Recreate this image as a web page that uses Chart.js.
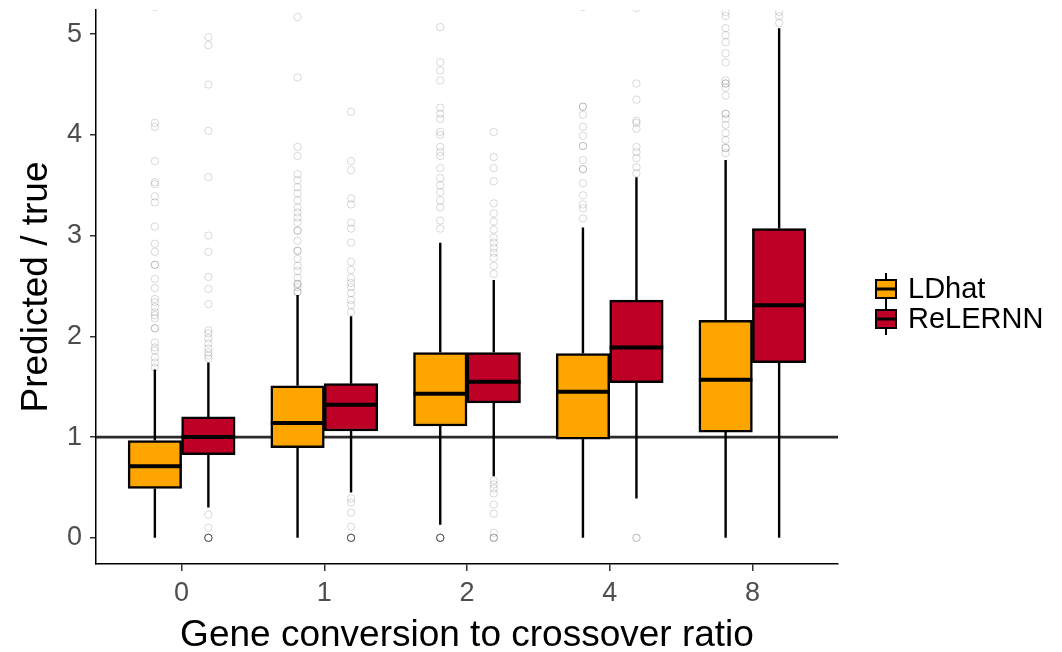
<!DOCTYPE html>
<html>
<head>
<meta charset="utf-8">
<script src="https://cdn.jsdelivr.net/npm/chart.js@4"></script>
<style>
  html, body { margin: 0; padding: 0; background: #fff; }
</style>
</head>
<body>
<canvas id="chart" width="1062" height="652"></canvas>
<script>
// --- data ---
const categories = ['0', '1', '2', '4', '8'];
const yTicks = [0, 1, 2, 3, 4, 5];
const refValue = 1;

const ldhatLower  = [0, 0, 0.13, 0, 0];
const ldhatQ1     = [0.49, 0.895, 1.11, 0.98, 1.05];
const ldhatMedian = [0.71, 1.14, 1.43, 1.45, 1.57];
const ldhatQ3     = [0.965, 1.51, 1.84, 1.83, 2.16];
const ldhatUpper  = [1.67, 2.41, 2.93, 3.08, 3.75];
const ldhatOutliers = [
  [5.27, 4.12, 4.08, 3.74, 3.53, 3.51, 3.39, 3.33, 3.09, 2.92, 2.84, 2.71, 2.71, 2.57, 2.48, 2.37, 2.34, 2.29, 2.24, 2.21, 2.18, 2.08, 2.08, 1.94, 1.89, 1.86, 1.79, 1.74, 1.69],
  [5.17, 4.57, 3.88, 3.79, 3.61, 3.55, 3.48, 3.42, 3.35, 3.28, 3.23, 3.18, 3.13, 3.05, 3.05, 2.95, 2.85, 2.85, 2.77, 2.70, 2.65, 2.58, 2.52, 2.52, 2.49, 2.44, 2.44],
  [5.07, 4.72, 4.64, 4.54, 4.27, 4.21, 4.16, 4.03, 4.00, 3.88, 3.83, 3.79, 3.67, 3.57, 3.50, 3.43, 3.35, 3.28, 3.15, 3.07, 0, 0, 0, 0, 0, 0, 0],
  [5.27, 4.28, 4.28, 4.20, 4.08, 3.99, 3.89, 3.89, 3.75, 3.66, 3.66, 3.52, 3.40, 3.31, 3.27, 3.17],
  [5.22, 5.18, 5.06, 4.99, 4.92, 4.81, 4.72, 4.54, 4.51, 4.51, 4.47, 4.39, 4.21, 4.21, 4.16, 4.10, 4.02, 3.95, 3.87, 3.87, 3.82]
];

const relernnLower  = [0.30, 0.45, 0.61, 0.39, 0];
const relernnQ1     = [0.825, 1.06, 1.34, 1.54, 1.74];
const relernnMedian = [1.00, 1.32, 1.55, 1.89, 2.31];
const relernnQ3     = [1.20, 1.53, 1.84, 2.36, 3.07];
const relernnUpper  = [1.74, 2.20, 2.56, 3.58, 5.06];
const relernnOutliers = [
  [4.97, 4.89, 4.50, 4.04, 3.58, 3.00, 2.84, 2.59, 2.47, 2.32, 2.06, 2.03, 1.98, 1.93, 1.88, 1.84, 1.81, 1.78, 0.23, 0.10, 0, 0, 0, 0, 0, 0, 0],
  [4.23, 3.74, 3.65, 3.37, 3.31, 3.13, 3.07, 2.93, 2.74, 2.66, 2.58, 2.53, 2.49, 2.43, 2.36, 2.31, 2.24, 0.39, 0.35, 0.25, 0.11, 0, 0, 0, 0, 0, 0, 0],
  [4.03, 3.78, 3.67, 3.54, 3.32, 3.22, 3.14, 3.06, 2.98, 2.93, 2.88, 2.83, 2.78, 2.70, 2.62, 0.57, 0.53, 0.49, 0.44, 0.33, 0.24, 0.05, 0, 0, 0],
  [5.26, 4.51, 4.35, 4.14, 4.12, 4.06, 3.88, 3.83, 3.77, 3.68, 3.62, 0, 0],
  [5.22, 5.18, 5.11]
];

const series = [
  { label: 'LDhat', color: '#FFA500', shift: -0.1875, lower: ldhatLower, q1: ldhatQ1, median: ldhatMedian, q3: ldhatQ3, upper: ldhatUpper, outliers: ldhatOutliers },
  { label: 'ReLERNN', color: '#BE0027', shift: 0.1875, lower: relernnLower, q1: relernnQ1, median: relernnMedian, q3: relernnQ3, upper: relernnUpper, outliers: relernnOutliers }
];

const FONT = "'Liberation Sans', Arial, sans-serif";

// boxes as floating bars
const boxSets = series.map(s => ({
  type: 'bar',
  label: s.label,
  data: categories.map((c, i) => ({ x: i + 1 + s.shift, y: [s.q1[i], s.q3[i]] })),
  backgroundColor: s.color,
  borderColor: '#000',
  borderWidth: 2.5,
  borderSkipped: false,
  grouped: false,
  categoryPercentage: 1,
  barPercentage: 1,
  order: 2
}));

// outliers as open circles
const outlierSets = series.map(s => ({
  type: 'scatter',
  label: s.label + ' outliers',
  data: s.outliers.flatMap((vals, i) => vals.map(v => ({ x: i + 1 + s.shift, y: v }))),
  pointRadius: 3.7,
  pointBorderWidth: 1,
  pointBorderColor: 'rgba(0,0,0,0.15)',
  pointBackgroundColor: 'rgba(0,0,0,0)',
  pointHoverRadius: 0,
  order: 1
}));

const boxParts = {
  id: 'boxParts',
  beforeDatasetsDraw(chart) {
    const { ctx, chartArea, scales: { x, y } } = chart;
    ctx.save();
    // horizontal reference line at 1
    const yr = y.getPixelForValue(refValue);
    ctx.strokeStyle = '#2b2b2b';
    ctx.lineWidth = 2.8;
    ctx.beginPath();
    ctx.moveTo(chartArea.left, yr);
    ctx.lineTo(chartArea.right, yr);
    ctx.stroke();
    // whiskers
    ctx.strokeStyle = '#000';
    ctx.lineWidth = 2.4;
    series.forEach(s => {
      s.lower.forEach((lo, i) => {
        const px = x.getPixelForValue(i + 1 + s.shift);
        ctx.beginPath();
        ctx.moveTo(px, y.getPixelForValue(lo));
        ctx.lineTo(px, y.getPixelForValue(s.q1[i]));
        ctx.moveTo(px, y.getPixelForValue(s.q3[i]));
        ctx.lineTo(px, y.getPixelForValue(s.upper[i]));
        ctx.stroke();
      });
    });
    ctx.restore();
  },
  afterDatasetsDraw(chart) {
    const { ctx, scales: { y } } = chart;
    ctx.save();
    ctx.strokeStyle = '#000';
    ctx.lineWidth = 4;
    series.forEach((s, k) => {
      const meta = chart.getDatasetMeta(k);
      meta.data.forEach((bar, i) => {
        const py = y.getPixelForValue(s.median[i]);
        ctx.beginPath();
        ctx.moveTo(bar.x - bar.width / 2, py);
        ctx.lineTo(bar.x + bar.width / 2, py);
        ctx.stroke();
      });
    });
    ctx.restore();
  },
  afterDraw(chart) {
    // legend with small boxplot keys
    const { ctx, chartArea } = chart;
    ctx.save();
    const kx = chartArea.right + 38, kw = 20, kh = 18;
    series.forEach((s, k) => {
      const cy = 289 + k * 30;
      ctx.strokeStyle = '#000';
      ctx.lineWidth = 2;
      ctx.beginPath();
      ctx.moveTo(kx + kw / 2, cy - 16);
      ctx.lineTo(kx + kw / 2, cy + 16);
      ctx.stroke();
      ctx.fillStyle = s.color;
      ctx.fillRect(kx, cy - kh / 2, kw, kh);
      ctx.strokeRect(kx, cy - kh / 2, kw, kh);
      ctx.lineWidth = 3;
      ctx.beginPath();
      ctx.moveTo(kx, cy);
      ctx.lineTo(kx + kw, cy);
      ctx.stroke();
      ctx.fillStyle = '#000';
      ctx.font = '29px ' + FONT;
      ctx.textBaseline = 'middle';
      ctx.textAlign = 'left';
      ctx.fillText(s.label, kx + kw + 12, cy + 1);
    });
    ctx.restore();
  }
};

new Chart(document.getElementById('chart'), {
  type: 'bar',
  data: { datasets: [...boxSets, ...outlierSets] },
  options: {
    responsive: false,
    animation: false,
    devicePixelRatio: 1,
    layout: { padding: { top: 10, right: 224, left: 0, bottom: 0 } },
    plugins: { legend: { display: false }, tooltip: { enabled: false } },
    scales: {
      x: {
        type: 'linear',
        offset: false,
        min: 0.4,
        max: 5.6,
        afterBuildTicks: scale => { scale.ticks = categories.map((c, i) => ({ value: i + 1 })); },
        afterFit: scale => { scale.height = 88; scale.paddingLeft = 0; scale.paddingRight = 0; },
        grid: { offset: false, drawOnChartArea: false, drawTicks: true, tickLength: 7, color: '#333', lineWidth: 1.5 },
        border: { display: true, color: '#000', width: 1.5 },
        ticks: {
          callback: v => categories[v - 1],
          color: '#4d4d4d',
          font: { family: FONT, size: 27 },
          padding: 6,
          maxRotation: 0,
          autoSkip: false
        },
        title: {
          display: true,
          text: 'Gene conversion to crossover ratio',
          color: '#000',
          font: { family: FONT, size: 37, lineHeight: 0.9 },
          padding: { top: 0, bottom: 0 }
        }
      },
      y: {
        min: -0.26,
        max: 5.24,
        afterBuildTicks: scale => { scale.ticks = yTicks.map(v => ({ value: v })); },
        afterFit: scale => { scale.width = 96; scale.paddingTop = 0; scale.paddingBottom = 0; },
        grid: { drawOnChartArea: false, drawTicks: true, tickLength: 6, color: '#333', lineWidth: 1.5 },
        border: { display: true, color: '#000', width: 1.5 },
        ticks: {
          color: '#4d4d4d',
          font: { family: FONT, size: 27 },
          padding: 8
        },
        title: {
          display: true,
          text: 'Predicted / true',
          color: '#000',
          font: { family: FONT, size: 37, lineHeight: 1 },
          padding: { top: 18, bottom: 0 }
        }
      }
    }
  },
  plugins: [boxParts]
});
</script>
</body>
</html>
